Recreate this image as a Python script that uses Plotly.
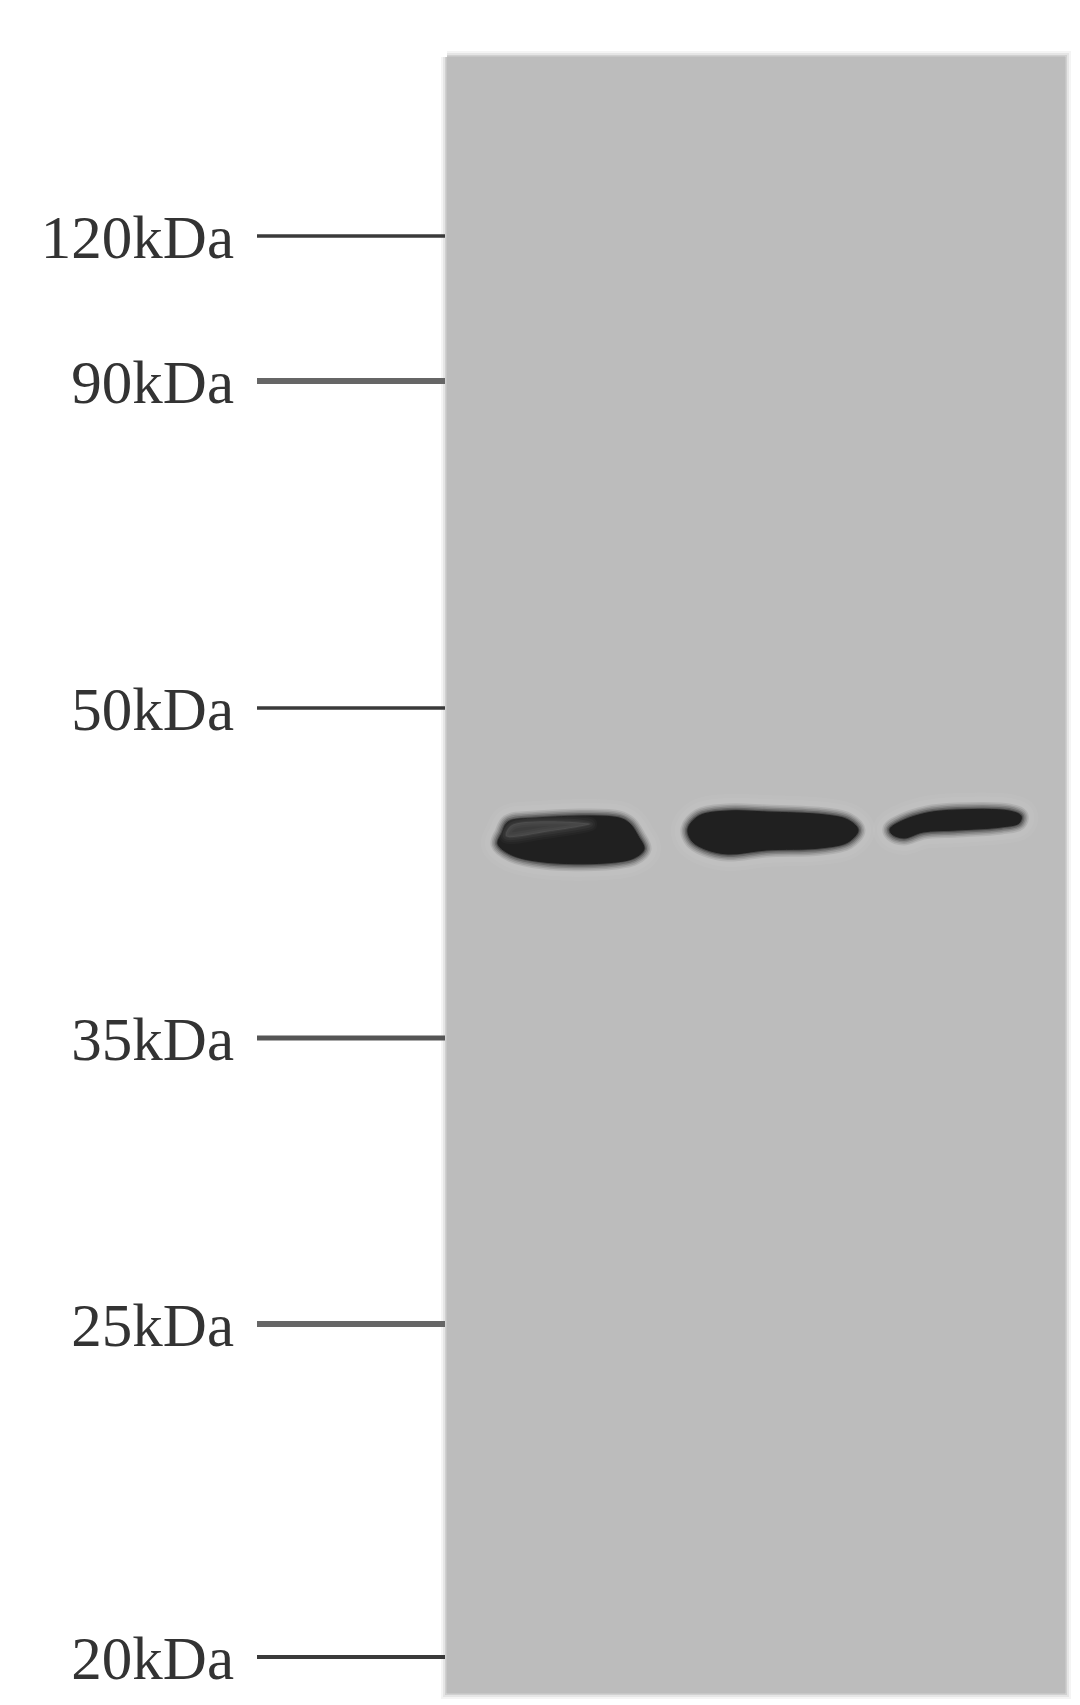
import plotly.graph_objects as go

# blot drawn on a pixel-sized axis, y grows downwards like migration
page_w = 1080
page_h = 1705
body_margin = 8  # the html page keeps its default 8px margin

marker_labels = ["120kDa", "90kDa", "50kDa", "35kDa", "25kDa", "20kDa"]
marker_y = [236, 381, 708, 1038, 1324, 1657]
marker_width = [3.5, 6, 3.5, 5, 6, 4]
marker_color = ["#3a3a3a", "#666666", "#3a3a3a", "#555555", "#666666", "#3a3a3a"]
tick_x = [257, 445]
label_x = 234
label_drop = 7

gel_x = [447, 1065, 1065, 447, 447]
gel_y = [57, 57, 1693, 1693, 57]

band1_x = [508, 536, 619, 630, 638, 644, 634, 605, 544, 512, 498, 502]
band1_y = [822, 818, 818, 824, 836, 849, 858, 863, 862, 855, 844, 833]
band1_patch_x = [512, 590, 545, 506]
band1_patch_y = [825, 824, 832, 836]
band2_x = [688, 699, 728, 766, 825, 848, 858, 848, 820, 766, 728, 705, 692]
band2_y = [829, 816, 811, 812, 815, 820, 830, 842, 848, 850, 854, 849, 841]
band3_x = [890, 902, 927, 957, 1009, 1021, 1019, 1001, 957, 923, 904, 892]
band3_y = [829, 821, 813, 810, 811, 816, 823, 827, 830, 832, 838, 834]

fig = go.Figure()

# gel background, the soft edge comes from see-through strokes
for w, a in [(12, 0.15), (8, 0.25), (4, 0.5)]:
    fig.add_trace(go.Scatter(x=gel_x, y=gel_y, mode="lines", opacity=a,
                             line=dict(color="#bcbcbc", width=w)))
fig.add_trace(go.Scatter(x=gel_x, y=gel_y, mode="lines", fill="toself",
                         fillcolor="#bcbcbc", line=dict(color="#bcbcbc", width=1)))

# marker ticks and labels
for lab, y, w, c in zip(marker_labels, marker_y, marker_width, marker_color):
    fig.add_trace(go.Scatter(x=tick_x, y=[y, y], mode="lines",
                             line=dict(color=c, width=w)))
    fig.add_trace(go.Scatter(x=[label_x], y=[y + label_drop], mode="text", text=[lab],
                             textposition="middle left",
                             textfont=dict(family="Liberation Serif", size=61, color="#333333")))


def add_band(xs, ys, color="#202020"):
    xs = xs + xs[:1]
    ys = ys + ys[:1]
    # pale halo round the band
    for w, a in [(34, 0.25), (26, 0.35)]:
        fig.add_trace(go.Scatter(x=xs, y=ys, mode="lines", opacity=a,
                                 line=dict(color="#c6c6c6", width=w, shape="spline")))
    # wide see-through strokes so the edge looks soft
    for w, a in [(15, 0.10), (12, 0.14), (9, 0.2), (6, 0.3), (3, 0.5)]:
        fig.add_trace(go.Scatter(x=xs, y=ys, mode="lines", opacity=a,
                                 line=dict(color="#2a2a2a", width=w, shape="spline")))
    fig.add_trace(go.Scatter(x=xs, y=ys, mode="lines", fill="toself", fillcolor=color,
                             line=dict(color=color, width=1, shape="spline")))


add_band(band1_x, band1_y)
add_band(band2_x, band2_y)
add_band(band3_x, band3_y)

# lighter patch at the top left of lane 1
patch_x = band1_patch_x + band1_patch_x[:1]
patch_y = band1_patch_y + band1_patch_y[:1]
for w, a in [(14, 0.06), (10, 0.08), (6, 0.1), (2, 0.12)]:
    fig.add_trace(go.Scatter(x=patch_x, y=patch_y, mode="lines", opacity=a,
                             line=dict(color="#777777", width=w, shape="spline")))
fig.add_trace(go.Scatter(x=patch_x, y=patch_y, mode="lines", fill="toself",
                         fillcolor="rgba(119,119,119,0.3)",
                         line=dict(width=0, shape="spline")))

fig.update_layout(width=page_w - body_margin, height=page_h - body_margin, showlegend=False,
                  margin=dict(l=0, r=0, t=0, b=0),
                  paper_bgcolor="white", plot_bgcolor="white")
fig.update_xaxes(range=[body_margin, page_w], visible=False)
fig.update_yaxes(range=[page_h, body_margin], visible=False)

fig.write_html("out.html")
